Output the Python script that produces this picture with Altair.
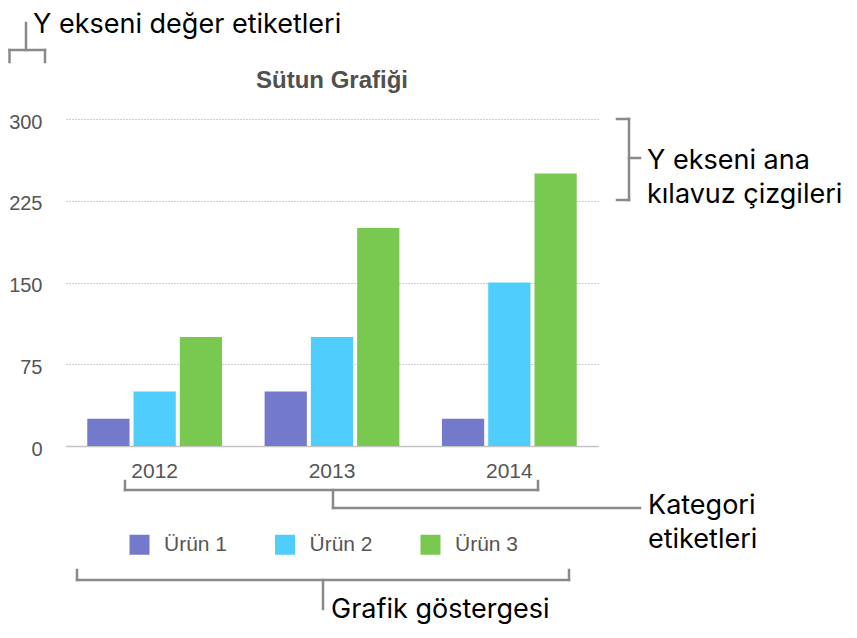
import altair as alt
import pandas as pd

years = ["2012", "2013", "2014"]
products = ["Ürün 1", "Ürün 2", "Ürün 3"]
urun1 = [25, 50, 25]
urun2 = [50, 100, 150]
urun3 = [100, 200, 250]
y_ticks = [0, 75, 150, 225, 300]
colors = ["#737ACB", "#4FCDFC", "#79C850"]
chart_title = "Sütun Grafiği"

rows = []
for name, vals in zip(products, [urun1, urun2, urun3]):
    for yr, v in zip(years, vals):
        rows.append({"yil": yr, "urun": name, "deger": v})
df = pd.DataFrame(rows)

W, H = 532, 327
LABEL_FONT = "Liberation Sans"
NOTE_FONT = "Inter"
BRACKET = "#8a8a8a"

bars = alt.Chart(df).mark_bar().encode(
    x=alt.X(
        "yil:N", sort=years, title=None,
        scale=alt.Scale(paddingInner=0.24, paddingOuter=0.12),
        axis=alt.Axis(labelAngle=0, ticks=False, labelPadding=14, domainColor="#c4c4c4", domainWidth=1.5),
    ),
    xOffset=alt.XOffset("urun:N", sort=products, scale=alt.Scale(paddingInner=0.087, paddingOuter=0)),
    y=alt.Y(
        "deger:Q", title=None,
        scale=alt.Scale(domain=[0, 300], nice=False),
        axis=alt.Axis(values=y_ticks, domain=False, ticks=False, labelPadding=24, labelOffset=3,
                      labelFontSize=20, gridDash=[1, 2], gridColor="#9a9a9a"),
    ),
    color=alt.Color(
        "urun:N", sort=products,
        scale=alt.Scale(domain=products, range=colors),
        legend=alt.Legend(title=None, orient="none", legendX=63, legendY=415, direction="horizontal",
                          symbolType="square", symbolSize=400, symbolStrokeWidth=0, symbolOpacity=1,
                          labelOffset=14, columnPadding=46.5, padding=0,
                          labelFont=LABEL_FONT, labelFontSize=21, labelColor="#555"),
    ),
)

one = pd.DataFrame({"k": [0]})


def seg(x1, y1, x2, y2):
    return alt.Chart(one).mark_rule(color=BRACKET, strokeWidth=2.5, strokeCap="square").encode(
        x=alt.value(x1), x2=alt.value(x2), y=alt.value(y1), y2=alt.value(y2)
    )


def note(x, y, text):
    return alt.Chart(one).mark_text(
        align="left", baseline="alphabetic", font=NOTE_FONT, fontSize=27, color="#000", lineHeight=34
    ).encode(x=alt.value(x), y=alt.value(y), text=alt.value(text))


title = alt.Chart(one).mark_text(
    align="center", baseline="alphabetic", font=LABEL_FONT, fontSize=24, fontWeight="bold", color="#505050"
).encode(x=alt.value(W / 2), y=alt.value(-31.5), text=alt.value(chart_title))

# callouts, in pixels from the plot's top-left corner
notes = [
    # y axis value labels
    seg(-56.5, -69, -21, -69), seg(-56.5, -69, -56.5, -57), seg(-21, -69, -21, -57), seg(-40, -96, -40, -69),
    note(-33, -86, "Y ekseni değer etiketleri"),
    # gridlines
    seg(551, 0, 563, 0), seg(563, 0, 563, 81), seg(551, 81, 563, 81), seg(563, 39, 574, 39),
    note(581, 50, ["Y ekseni ana", "kılavuz çizgileri"]),
    # category labels
    seg(59, 362, 59, 371), seg(472, 362, 472, 371), seg(59, 371, 472, 371),
    seg(267, 371, 267, 389), seg(267, 389, 574, 389),
    note(582, 395, ["Kategori", "etiketleri"]),
    # legend
    seg(11, 451, 11, 461), seg(503, 451, 503, 461), seg(11, 461, 503, 461), seg(257, 461, 257, 490),
    note(265, 499, "Grafik göstergesi"),
]

chart = (
    alt.layer(bars, title, *notes)
    .properties(
        width=W, height=H,
        autosize=alt.AutoSizeParams(type="none"),
        padding={"left": 58, "top": 111, "right": 250, "bottom": 184},
    )
    .configure_view(stroke=None)
    .configure_axis(labelFont=LABEL_FONT, labelFontSize=21, labelColor="#555")
)

chart.save("out.html", embed_options={"renderer": "svg", "actions": False})
